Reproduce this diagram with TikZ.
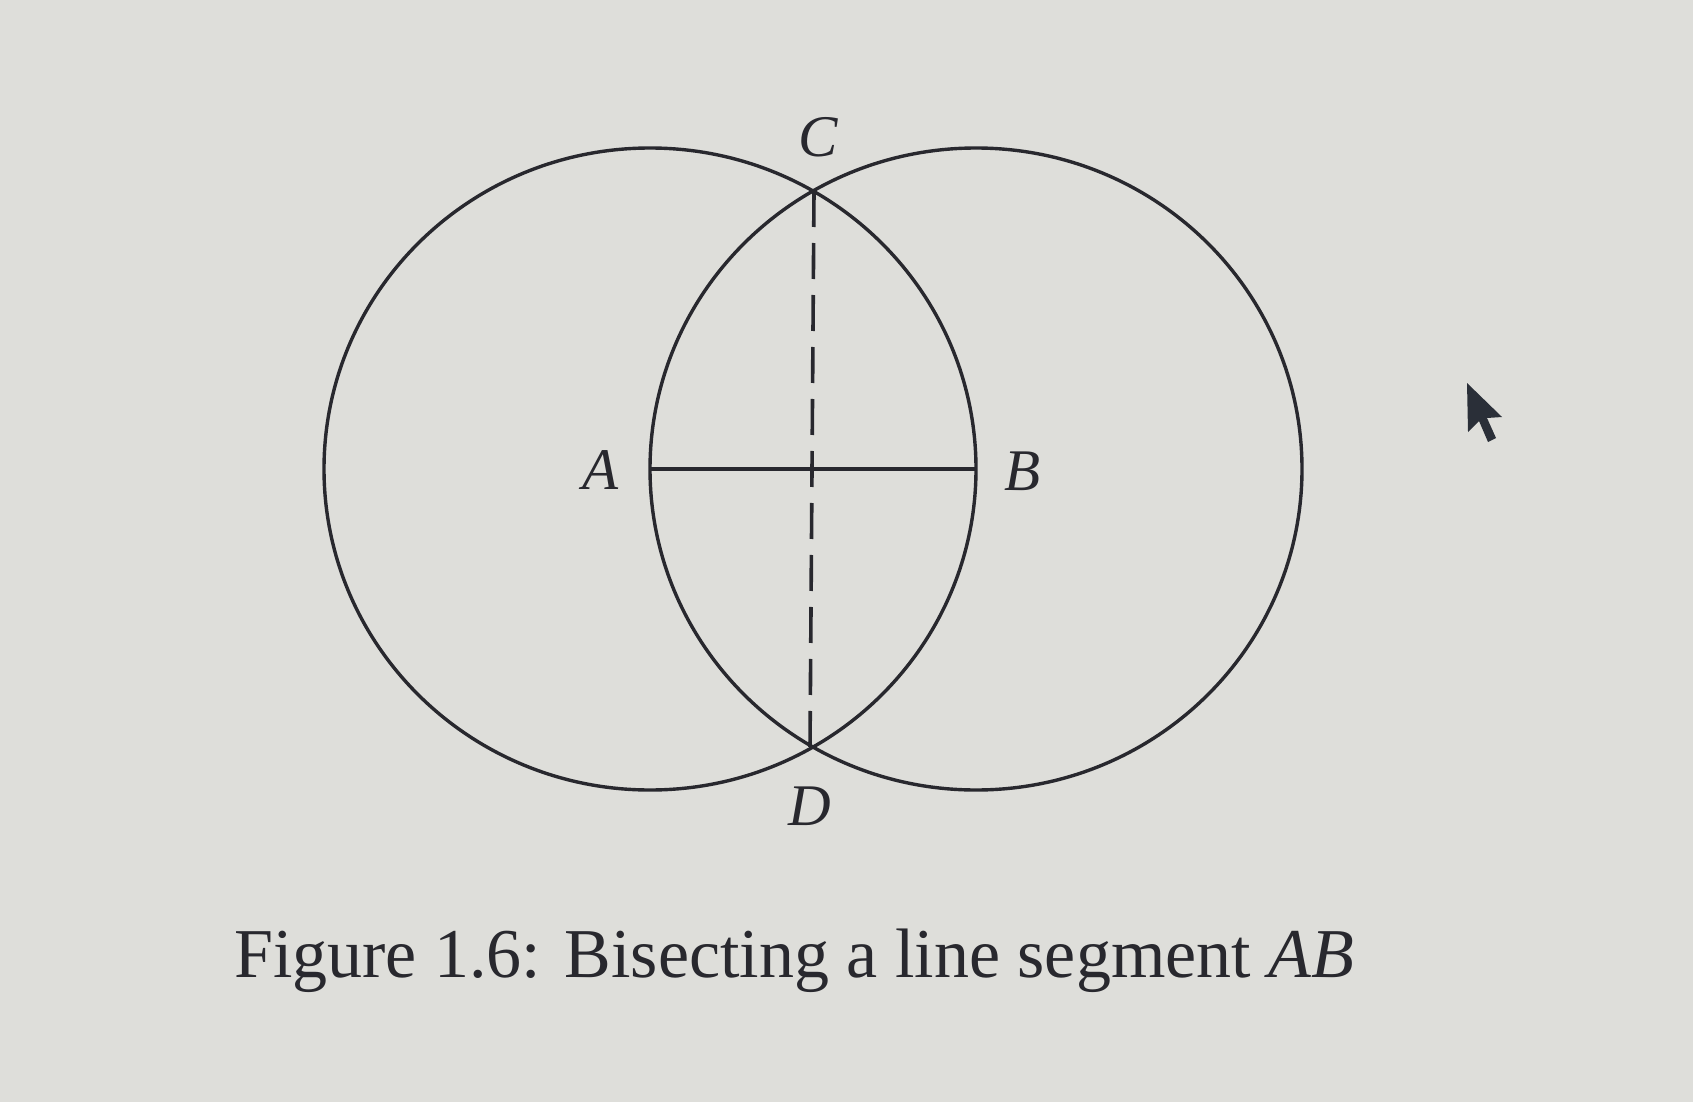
\documentclass[tikz,border=0pt]{standalone}
\usepackage{fontspec}
\setmainfont{Liberation Serif}
\definecolor{bg}{HTML}{DEDEDA}
\definecolor{ink}{HTML}{28282E}
\definecolor{cursorc}{HTML}{2A2F38}
\begin{document}
\begin{tikzpicture}[x=1pt,y=-1pt,
  geo/.style={draw=ink,line width=3.4pt},
  lbl/.style={text=ink,font=\fontsize{59}{60}\selectfont\itshape,inner sep=0pt},
  dashline/.style={draw=ink,line width=3.6pt,dash pattern=on 36pt off 16pt}]
\fill[bg] (0,0) rectangle (1693,1102);
\useasboundingbox (0,0) rectangle (1693,1102);
\coordinate (A) at (650,469);
\coordinate (B) at (976,469);
\coordinate (C) at (814,191);
\coordinate (D) at (810,747);
\draw[geo] (A) ellipse [x radius=326, y radius=321];
\draw[geo] (B) ellipse [x radius=326, y radius=321];
\draw[geo] (A) -- (B);
\draw[dashline] (C) -- (D);
\node[lbl] (la) at (601,470) {A};
\node[lbl] (lb) at (1023,471) {B};
\node[lbl] (lc) at (818,137) {C};
\node[lbl] (ld) at (810,806) {D};
\node[text=ink,anchor=base,font=\fontsize{70}{72}\selectfont,inner sep=0pt] (cap) at (794,977) {Figure 1.6: Bisecting a line segment \textit{AB}};
\fill[cursorc] (1467,383) -- (1468,432) -- (1479,421) -- (1488,442) -- (1496,438) -- (1487,418) -- (1502,417) -- cycle;
\end{tikzpicture}
\end{document}
